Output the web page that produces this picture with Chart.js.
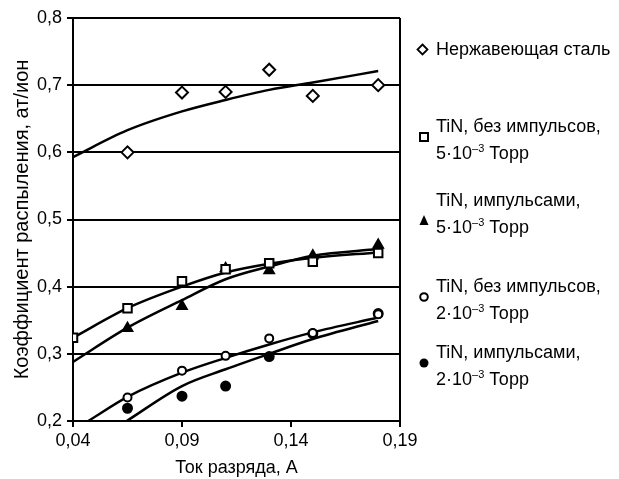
<!DOCTYPE html>
<html>
<head>
<meta charset="utf-8">
<script src="https://cdn.jsdelivr.net/npm/chart.js"></script>
<style>
  body { margin: 0; background: #fff; font-family: "Liberation Sans", Arial, sans-serif; }
  #wrap { position: relative; width: 619px; height: 479px; }
  canvas { position: absolute; left: 0; top: 0; }
  .lg { position: absolute; left: 436px; font-size: 18px; line-height: 27px; color: #000; white-space: nowrap; }
  .lg sup { font-size: 11px; vertical-align: 7px; line-height: 0; }
  .mk { position: absolute; }
</style>
</head>
<body>
<div id="wrap">
  <canvas id="chart" width="619" height="479"></canvas>
  <svg class="mk" style="left:416px;top:43px" width="13" height="13"><path d="M6.5 1.5 L11.5 6.5 L6.5 11.5 L1.5 6.5 Z" fill="#fff" stroke="#000" stroke-width="1.8"/></svg>
  <div class="lg" style="top:36px">Нержавеющая сталь</div>

  <svg class="mk" style="left:418px;top:131px" width="12" height="12"><rect x="2" y="2" width="8" height="8" fill="#fff" stroke="#000" stroke-width="2"/></svg>
  <div class="lg" style="top:113px">TiN, без импульсов,<br>5·10<sup>–3</sup> Торр</div>

  <svg class="mk" style="left:418px;top:214px" width="12" height="12"><path d="M6 1 L10.5 11 L1.5 11 Z" fill="#000"/></svg>
  <div class="lg" style="top:187px">TiN, импульсами,<br>5·10<sup>–3</sup> Торр</div>

  <svg class="mk" style="left:418px;top:291px" width="12" height="12"><circle cx="6" cy="6" r="3.8" fill="#fff" stroke="#000" stroke-width="2"/></svg>
  <div class="lg" style="top:273px">TiN, без импульсов,<br>2·10<sup>–3</sup> Торр</div>

  <svg class="mk" style="left:418px;top:357px" width="12" height="12"><circle cx="6" cy="6" r="4.5" fill="#000"/></svg>
  <div class="lg" style="top:339px">TiN, импульсами,<br>2·10<sup>–3</sup> Торр</div>
</div>
<script>
// measured points
const steelX = [0.065, 0.09, 0.11, 0.13, 0.15, 0.18];
const steelY = [0.600, 0.689, 0.690, 0.723, 0.684, 0.700];

const noPulse5X = [0.04, 0.065, 0.09, 0.11, 0.13, 0.15, 0.18];
const noPulse5Y = [0.324, 0.368, 0.408, 0.426, 0.435, 0.437, 0.450];

const pulse5X = [0.065, 0.09, 0.11, 0.13, 0.15, 0.18];
const pulse5Y = [0.338, 0.371, 0.427, 0.424, 0.446, 0.462];

const noPulse2X = [0.065, 0.09, 0.11, 0.13, 0.15, 0.18];
const noPulse2Y = [0.235, 0.275, 0.297, 0.323, 0.331, 0.359];

const pulse2X = [0.065, 0.09, 0.11, 0.13, 0.15, 0.18];
const pulse2Y = [0.219, 0.237, 0.252, 0.296, 0.330, 0.360];

// trend curves
const steelFitX = [0.04, 0.065, 0.09, 0.11, 0.13, 0.15, 0.18];
const steelFitY = [0.593, 0.633, 0.661, 0.678, 0.693, 0.704, 0.721];

const noPulse5FitX = [0.04, 0.065, 0.09, 0.11, 0.13, 0.15, 0.18];
const noPulse5FitY = [0.324, 0.368, 0.400, 0.421, 0.434, 0.443, 0.451];

const pulse5FitX = [0.04, 0.065, 0.09, 0.11, 0.13, 0.15, 0.18];
const pulse5FitY = [0.288, 0.339, 0.380, 0.411, 0.430, 0.446, 0.456];

const noPulse2FitX = [0.047, 0.065, 0.09, 0.11, 0.13, 0.15, 0.18];
const noPulse2FitY = [0.200, 0.236, 0.272, 0.294, 0.314, 0.332, 0.354];

const pulse2FitX = [0.0646, 0.09, 0.11, 0.13, 0.15, 0.18];
const pulse2FitY = [0.200, 0.252, 0.277, 0.300, 0.322, 0.349];

const xTicks = [0.04, 0.09, 0.14, 0.19];
const yTicks = [0.2, 0.3, 0.4, 0.5, 0.6, 0.7, 0.8];

function pts(xs, ys) {
    return xs.map((x, i) => ({ x: x, y: ys[i] }));
}

function markers(xs, ys, style, fill, r) {
    return {
        data: pts(xs, ys),
        showLine: false,
        pointStyle: style,
        pointRadius: r,
        pointBackgroundColor: fill,
        pointBorderColor: '#000',
        pointBorderWidth: 2
    };
}

function trend(xs, ys) {
    return {
        data: pts(xs, ys),
        showLine: true,
        borderColor: '#000',
        borderWidth: 2.5,
        pointRadius: 0,
        cubicInterpolationMode: 'monotone'
    };
}

const ctx = document.getElementById('chart').getContext('2d');
new Chart(ctx, {
    type: 'scatter',
    data: {
        datasets: [
            markers(steelX, steelY, 'rectRot', '#fff', 6),
            markers(noPulse5X, noPulse5Y, 'rect', '#fff', 6),
            markers(pulse5X, pulse5Y, 'triangle', '#000', 5.5),
            markers(noPulse2X, noPulse2Y, 'circle', '#fff', 4),
            markers(pulse2X, pulse2Y, 'circle', '#000', 4.5),
            trend(steelFitX, steelFitY),
            trend(noPulse5FitX, noPulse5FitY),
            trend(pulse5FitX, pulse5FitY),
            trend(noPulse2FitX, noPulse2FitY),
            trend(pulse2FitX, pulse2FitY)
        ]
    },
    options: {
        responsive: false,
        animation: false,
        layout: { padding: { top: 18, right: 219, left: 0, bottom: 0 } },
        plugins: {
            legend: { display: false },
            tooltip: { enabled: false }
        },
        scales: {
            x: {
                type: 'linear',
                min: 0.04,
                max: 0.19,
                afterBuildTicks: s => { s.ticks = xTicks.map(v => ({ value: v })); },
                afterFit: s => { s.height = 58; },
                ticks: {
                    callback: v => v.toFixed(2).replace('.', ','),
                    color: '#000',
                    font: { family: '"Liberation Sans", Arial', size: 18 },
                    padding: 3
                },
                grid: {
                    color: c => (c.tick && c.tick.value === 0.19) ? '#000' : 'rgba(0,0,0,0)',
                    tickColor: '#000',
                    lineWidth: 2,
                    tickLength: 6
                },
                border: { color: '#000', width: 2 },
                title: {
                    display: true,
                    text: 'Ток разряда, А',
                    color: '#000',
                    font: { family: '"Liberation Sans", Arial', size: 18 },
                    padding: 0
                }
            },
            y: {
                min: 0.2,
                max: 0.8,
                afterBuildTicks: s => { s.ticks = yTicks.map(v => ({ value: v })); },
                afterFit: s => { s.width = 73; },
                ticks: {
                    callback: v => v.toFixed(1).replace('.', ','),
                    color: '#000',
                    font: { family: '"Liberation Sans", Arial', size: 18 },
                    padding: 5
                },
                grid: { color: '#000', lineWidth: 2, tickLength: 6 },
                border: { color: '#000', width: 2 },
                title: {
                    display: true,
                    text: 'Коэффициент распыления, ат/ион',
                    color: '#000',
                    font: { family: '"Liberation Sans", Arial', size: 20 },
                    padding: { top: 10 }
                }
            }
        }
    }
});
</script>
</body>
</html>
